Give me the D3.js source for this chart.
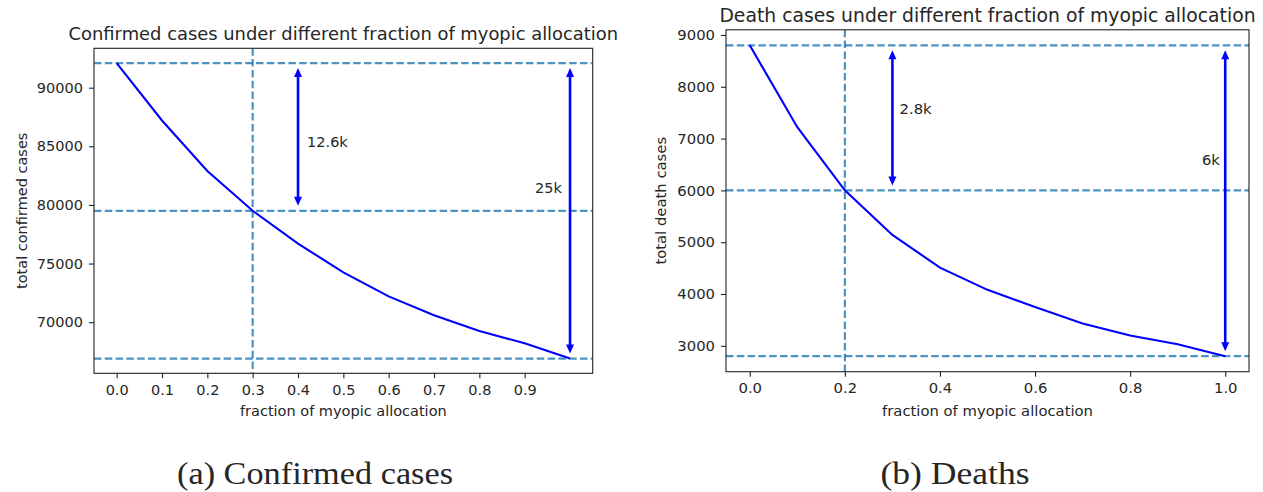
<!DOCTYPE html>
<html><head><meta charset="utf-8">
<script src="https://cdn.jsdelivr.net/npm/d3@7"></script>
<style>
html,body{margin:0;padding:0;background:#fff;}
svg{display:block;}
text{font-family:"DejaVu Sans",sans-serif;fill:#262626;}
</style></head>
<body>
<svg id="chart" width="1263" height="492"></svg>
<script>
// ---- data ----
const fractions = [0.0,0.1,0.2,0.3,0.4,0.5,0.6,0.7,0.8,0.9,1.0];
const confirmedCases = [92100,87200,82900,79500,76700,74250,72200,70600,69250,68200,66900];
const deathCases = [8800,7220,6000,5140,4510,4080,3750,3430,3200,3030,2800];

const confirmedXTicks = [0.0,0.1,0.2,0.3,0.4,0.5,0.6,0.7,0.8,0.9];
const confirmedYTicks = [70000,75000,80000,85000,90000];
const deathXTicks = [0.0,0.2,0.4,0.6,0.8,1.0];
const deathYTicks = [3000,4000,5000,6000,7000,8000,9000];

const confirmedHLines = [92100,79500,66900];
const confirmedVLine = 0.3;
const deathHLines = [8800,6000,2800];
const deathVLine = 0.2;

// arrows: [x, yFrom, yTo]
const confirmedArrows = [[0.4,92100,79500],[1.0,92100,66900]];
const deathArrows = [[0.3,8800,6000],[1.0,8800,2800]];
// annotation labels: [text, x, y]
const confirmedNotes = [["12.6k",0.42,85360],["25k",0.923,81430]];
const deathNotes = [["2.8k",0.315,7590],["6k",0.951,6590]];

const captions = ["(a) Confirmed cases","(b) Deaths"];

// ---- drawing ----
const svg = d3.select("#chart");
const dashColor = "#1f77b4";

function panel(cfg){
  const g = svg.append("g");
  const x = d3.scaleLinear().domain([-0.05,1.05]).range([cfg.x0,cfg.x1]);
  const ext = d3.extent(cfg.values);
  const pad = (ext[1]-ext[0])*0.05;
  const y = d3.scaleLinear().domain([ext[0]-pad, ext[1]+pad]).range([cfg.y1,cfg.y0]);

  const xa = g.append("g").attr("transform",`translate(0,${cfg.y1})`)
    .call(d3.axisBottom(x).tickValues(cfg.xTicks).tickFormat(d3.format(".1f")).tickSize(5).tickPadding(6));
  const ya = g.append("g").attr("transform",`translate(${cfg.x0},0)`)
    .call(d3.axisLeft(y).tickValues(cfg.yTicks).tickFormat(d3.format("d")).tickSize(5).tickPadding(6));
  [xa,ya].forEach(a=>{
    a.select(".domain").remove();
    a.selectAll(".tick line").attr("stroke","#222").attr("stroke-width",1.1);
    a.selectAll(".tick text").attr("font-size",cfg.fs+"px").attr("font-family","DejaVu Sans").attr("fill","#262626");
  });

  const clipId = "clip"+cfg.id;
  g.append("clipPath").attr("id",clipId).append("rect")
    .attr("x",cfg.x0).attr("y",cfg.y0).attr("width",cfg.x1-cfg.x0).attr("height",cfg.y1-cfg.y0);
  const inner = g.append("g").attr("clip-path",`url(#${clipId})`);

  cfg.hLines.forEach(v=>{
    inner.append("line").attr("x1",cfg.x0).attr("x2",cfg.x1).attr("y1",y(v)).attr("y2",y(v))
      .attr("stroke",dashColor).attr("stroke-opacity",0.8).attr("stroke-width",2.2).attr("stroke-dasharray","7.5,3.3");
  });
  inner.append("line").attr("x1",x(cfg.vLine)).attr("x2",x(cfg.vLine)).attr("y1",cfg.y0).attr("y2",cfg.y1)
    .attr("stroke",dashColor).attr("stroke-opacity",0.8).attr("stroke-width",2.2).attr("stroke-dasharray","7.5,3.3");

  inner.append("path").datum(fractions.map((f,i)=>[f,cfg.values[i]]))
    .attr("d",d3.line().x(d=>x(d[0])).y(d=>y(d[1])))
    .attr("fill","none").attr("stroke","#0000ff").attr("stroke-width",2.1);

  const shrink=5, headL=9, headW=4;
  cfg.arrows.forEach(a=>{
    const ax=x(a[0]); const yt=y(a[1])+shrink; const yb=y(a[2])-shrink;
    g.append("line").attr("x1",ax).attr("x2",ax).attr("y1",yt+headL-1).attr("y2",yb-headL+1)
      .attr("stroke","#0000ff").attr("stroke-width",2.6);
    g.append("path").attr("d",`M${ax},${yt}L${ax-headW},${yt+headL}L${ax+headW},${yt+headL}Z`).attr("fill","#0000ff");
    g.append("path").attr("d",`M${ax},${yb}L${ax-headW},${yb-headL}L${ax+headW},${yb-headL}Z`).attr("fill","#0000ff");
  });

  cfg.notes.forEach(n=>{
    g.append("text").attr("x",x(n[1])).attr("y",y(n[2])).attr("dominant-baseline","central")
      .attr("font-size",cfg.fs+"px").text(n[0]);
  });

  g.append("rect").attr("x",cfg.x0).attr("y",cfg.y0).attr("width",cfg.x1-cfg.x0).attr("height",cfg.y1-cfg.y0)
    .attr("fill","none").attr("stroke","#222").attr("stroke-width",1.1);

  const cx=(cfg.x0+cfg.x1)/2;
  g.append("text").attr("x",cx).attr("y",cfg.titleY).attr("text-anchor","middle").attr("font-size",cfg.tfs+"px").text(cfg.title);
  g.append("text").attr("x",cx).attr("y",416).attr("text-anchor","middle").attr("font-size",cfg.fs+"px").text("fraction of myopic allocation");
  g.append("text").attr("transform",`translate(${cfg.yLabelX},${(cfg.y0+cfg.y1)/2}) rotate(-90)`)
    .attr("text-anchor","middle").attr("dominant-baseline","central").attr("font-size",cfg.fs+"px").text(cfg.yLabel);
  svg.append("text").attr("x",cfg.capX-cfg.capW/2).attr("y",484)
    .attr("textLength",cfg.capW).attr("lengthAdjust","spacingAndGlyphs")
    .style("font-family","'Liberation Serif','DejaVu Serif',serif").attr("font-size","31px").attr("fill","#000").text(cfg.caption);
}

panel({id:"a",x0:94,x1:592.7,y0:48.3,y1:373.3,values:confirmedCases,xTicks:confirmedXTicks,yTicks:confirmedYTicks,
  hLines:confirmedHLines,vLine:confirmedVLine,arrows:confirmedArrows,notes:confirmedNotes,fs:14.5,tfs:17.9,
  title:"Confirmed cases under different fraction of myopic allocation",titleY:40,yLabel:"total confirmed cases",yLabelX:22,
  caption:captions[0],capX:315,capW:276});
panel({id:"b",x0:726,x1:1249,y0:29.8,y1:371.7,values:deathCases,xTicks:deathXTicks,yTicks:deathYTicks,
  hLines:deathHLines,vLine:deathVLine,arrows:deathArrows,notes:deathNotes,fs:14.8,tfs:18.8,
  title:"Death cases under different fraction of myopic allocation",titleY:22,yLabel:"total death cases",yLabelX:660,
  caption:captions[1],capX:955,capW:149});
</script>
</body></html>
